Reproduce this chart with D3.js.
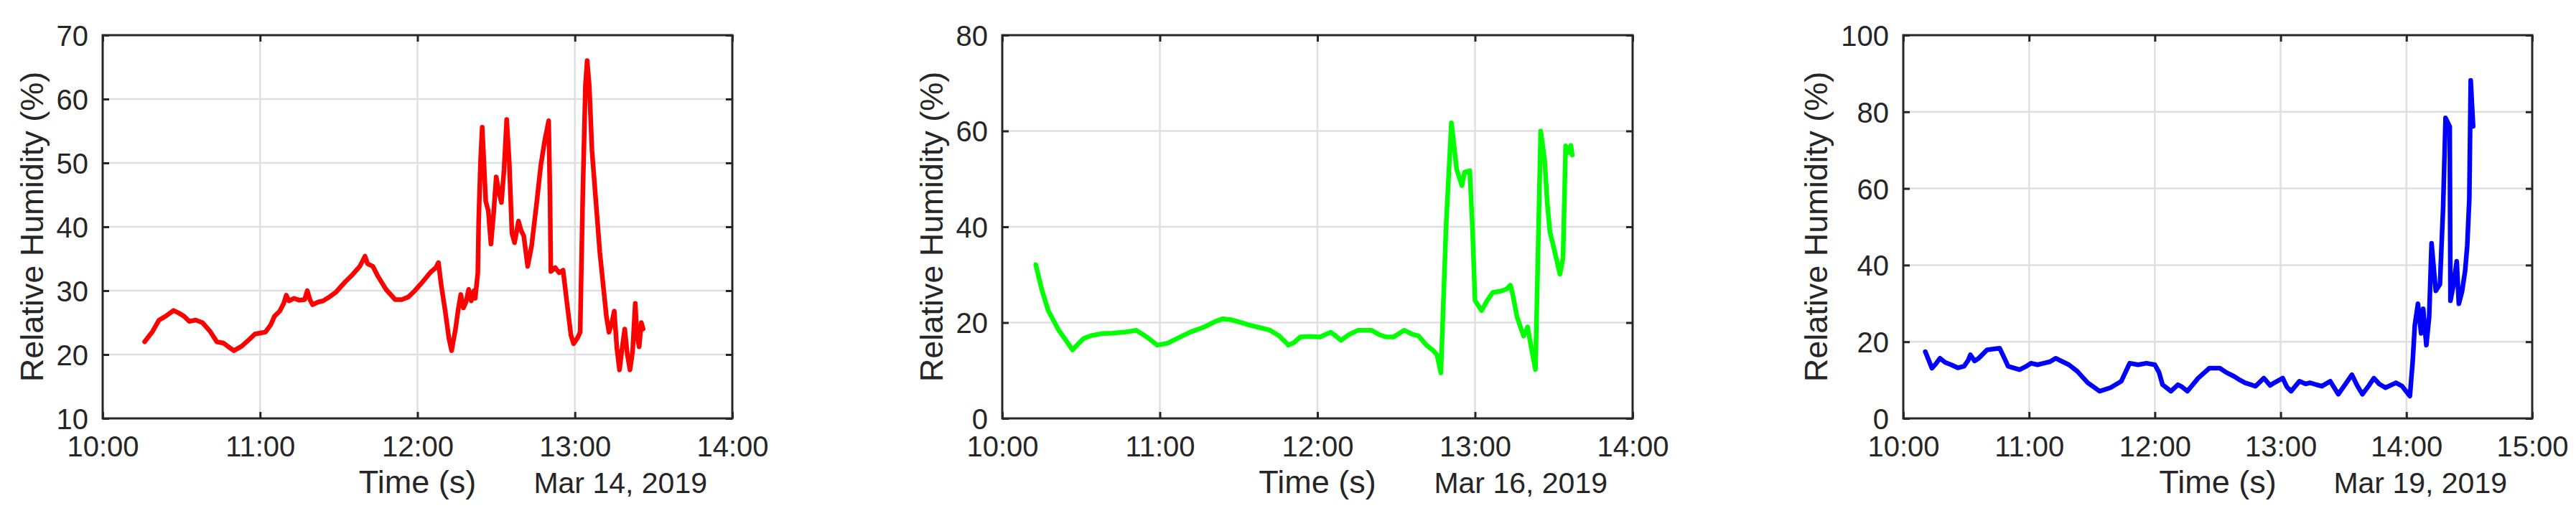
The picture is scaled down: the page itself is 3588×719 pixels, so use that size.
<!DOCTYPE html>
<html>
<head>
<meta charset="utf-8">
<script src="https://cdn.jsdelivr.net/npm/d3@7"></script>
<style>
  html, body { margin: 0; padding: 0; background: #fff; }
  svg { display: block; }
  text { font-family: "Liberation Sans", Arial, Helvetica, sans-serif; fill: #262626; }
</style>
</head>
<body>
<svg id="chart" width="3588" height="719"></svg>
<script>
// ---------------- DATA ----------------
const dates = ["2019-03-14", "2019-03-16", "2019-03-19"];
const dateLabels = ["Mar 14, 2019", "Mar 16, 2019", "Mar 19, 2019"];
const xDomains = [["10:00:00", "14:00:00"], ["10:00:00", "14:00:00"], ["10:00:00", "15:00:00"]];
const yDomains = [[10, 70], [0, 80], [0, 100]];
const yTicks1 = [10, 20, 30, 40, 50, 60, 70];
const yTicks2 = [0, 20, 40, 60, 80];
const yTicks3 = [0, 20, 40, 60, 80, 100];
const seriesColors = ["#ff0000", "#00ff00", "#0000ff"];
const xLabel = "Time (s)";
const yLabel = "Relative Humidity (%)";

const times1 = ["10:16:00","10:17:30","10:19:00","10:21:30","10:24:00","10:27:00","10:29:00","10:31:00","10:33:00","10:35:30",
"10:38:00","10:41:00","10:43:30","10:46:00","10:48:00","10:50:00","10:53:00","10:56:00","10:58:00","11:00:30",
"11:02:00","11:04:00","11:05:30","11:07:30","11:09:00","11:10:00","11:11:00","11:13:00","11:15:00","11:17:00",
"11:18:00","11:19:00","11:20:00","11:22:00","11:24:00","11:26:00","11:29:00","11:32:30","11:35:00","11:38:00",
"11:40:00","11:41:00","11:43:00","11:45:00","11:48:00","11:51:30","11:54:00","11:56:30","11:59:00","12:02:00",
"12:05:00","12:07:00","12:08:00","12:09:00","12:10:30","12:12:00","12:13:00","12:14:30","12:15:30","12:16:30",
"12:17:30","12:18:30","12:19:30","12:20:30","12:21:30","12:22:00","12:23:00","12:23:20","12:24:00","12:24:40",
"12:25:20","12:26:00","12:27:00","12:28:00","12:29:00","12:30:00","12:31:00","12:32:00","12:33:00","12:34:00",
"12:35:00","12:36:00","12:37:00","12:38:30","12:39:30","12:40:30","12:42:00","12:43:30","12:45:30","12:47:00",
"12:48:30","12:50:00","12:50:30","12:50:50","12:52:30","12:54:00","12:55:30","12:57:00","12:58:30","12:59:30",
"13:01:00","13:02:00","13:03:00","13:04:00","13:04:40","13:05:30","13:06:30","13:08:00","13:09:30","13:11:00",
"13:12:00","13:13:00","13:14:00","13:15:00","13:16:00","13:17:00","13:18:00","13:19:00","13:20:00","13:21:00",
"13:22:00","13:23:00","13:23:40","13:24:30","13:25:20","13:26:00"];
const values1 = [22.0,22.8,23.6,25.4,26.0,26.9,26.5,26.0,25.2,25.4,
25.0,23.6,22.0,21.8,21.2,20.6,21.3,22.4,23.2,23.4,
23.5,24.6,26.0,26.8,28.0,29.3,28.4,28.8,28.5,28.6,
30.0,28.6,27.8,28.2,28.4,28.9,29.8,31.4,32.4,33.8,
35.4,34.2,33.8,32.2,30.2,28.6,28.6,29.0,30.0,31.4,
32.9,33.6,34.4,31.0,27.0,22.5,20.6,24.0,27.0,29.4,
27.3,28.2,30.2,28.4,30.0,28.8,32.8,41.0,50.0,55.6,
50.0,44.0,42.5,37.3,42.0,47.8,45.5,43.8,49.0,56.8,
50.0,39.0,37.5,40.9,39.4,38.6,33.8,37.0,44.0,49.6,
53.5,56.6,45.0,33.0,33.6,32.8,33.2,28.0,23.0,21.7,
22.6,23.5,45.0,62.0,66.0,62.0,52.0,44.0,36.0,30.0,
26.0,23.5,24.8,26.8,21.0,17.6,21.0,24.0,20.0,17.6,
20.5,28.0,23.0,21.2,25.0,24.0];

const times2 = ["10:12:45","10:15:00","10:17:30","10:21:30","10:24:00","10:26:45","10:29:00","10:31:00","10:34:00","10:38:00",
"10:42:00","10:46:30","10:51:00","10:55:00","10:59:00","11:03:00","11:07:00","11:11:30","11:17:00","11:21:00",
"11:24:00","11:27:00","11:30:30","11:34:00","11:37:00","11:42:00","11:45:30","11:49:00","11:51:00","11:53:30",
"11:57:00","12:01:00","12:05:00","12:07:00","12:09:00","12:12:00","12:15:30","12:20:30","12:23:30","12:26:00",
"12:29:00","12:33:00","12:36:00","12:38:30","12:41:30","12:44:00","12:45:30","12:47:00","12:49:00","12:51:00",
"12:52:00","12:53:00","12:55:00","12:56:00","12:58:00","12:59:00","13:00:00","13:02:30","13:04:30","13:06:45",
"13:10:00","13:12:00","13:13:30","13:14:30","13:16:00","13:18:30","13:20:00","13:21:30","13:23:00","13:25:00",
"13:26:30","13:27:30","13:28:30","13:30:00","13:32:20","13:33:30","13:34:30","13:35:30","13:36:30","13:37:00"];
const values2 = [32.1,27.0,22.5,18.4,16.5,14.3,15.6,16.7,17.3,17.7,
17.8,18.0,18.4,17.0,15.3,15.7,16.8,18.0,19.1,20.2,
20.8,20.6,20.1,19.5,19.1,18.4,17.2,15.3,15.8,17.0,
17.1,17.0,18.0,17.2,16.3,17.5,18.4,18.4,17.5,17.0,
17.0,18.4,17.6,17.2,15.3,14.2,13.3,9.5,40.4,61.7,
57.0,52.0,48.6,51.4,51.7,40.0,24.6,22.5,24.5,26.3,
26.6,27.0,27.8,25.5,21.2,17.2,19.1,14.5,10.2,60.0,
54.0,45.0,39.0,35.6,30.1,33.5,56.9,55.5,57.0,55.0];

const times3 = ["10:10:30","10:13:40","10:15:30","10:17:30","10:20:00","10:22:50","10:26:00","10:29:00","10:31:00","10:32:00",
"10:34:00","10:36:00","10:40:00","10:43:00","10:46:00","10:48:00","10:50:00","10:55:30","10:58:00","11:01:00",
"11:04:00","11:07:00","11:10:00","11:12:40","11:16:00","11:19:00","11:23:00","11:28:00","11:33:40","11:36:00",
"11:38:50","11:44:00","11:48:00","11:52:00","11:56:00","12:00:00","12:02:00","12:03:40","12:07:40","12:11:00",
"12:13:00","12:15:30","12:20:40","12:26:00","12:31:00","12:34:00","12:37:40","12:40:00","12:43:00","12:48:00",
"12:52:00","12:55:00","12:57:00","13:01:00","13:03:00","13:05:00","13:09:00","13:12:00","13:14:00","13:17:00",
"13:19:40","13:23:40","13:27:30","13:31:00","13:34:00","13:36:30","13:39:00","13:42:00","13:44:30","13:47:00",
"13:50:00","13:55:00","13:58:00","14:01:40","14:03:00","14:04:00","14:05:30","14:07:00","14:08:00","14:09:30",
"14:10:50","14:12:00","14:14:00","14:16:00","14:17:30","14:18:40","14:20:40","14:21:00","14:22:30","14:24:00",
"14:25:00","14:26:30","14:28:00","14:29:00","14:30:00","14:30:40","14:31:50"];
const values3 = [17.4,13.1,14.2,15.7,14.6,14.0,13.2,13.6,15.2,16.6,
15.0,15.7,17.9,18.1,18.3,16.0,13.6,12.7,13.4,14.4,
14.0,14.4,14.8,15.7,14.8,14.0,12.3,9.3,7.1,7.5,
8.0,9.7,14.4,14.0,14.4,14.0,12.0,8.8,7.1,8.8,
8.2,7.1,10.5,13.1,13.1,12.0,11.0,10.2,9.3,8.4,
10.5,8.6,9.3,10.5,8.2,7.1,9.7,9.0,9.3,8.8,
8.4,9.7,6.3,9.0,11.4,8.6,6.3,8.5,10.5,9.0,
8.0,9.3,8.4,5.8,15.0,24.3,29.9,22.2,28.6,19.1,
26.4,45.7,33.3,35.0,55.0,78.4,76.2,30.7,35.0,41.0,
29.9,33.0,38.5,45.0,57.3,88.2,76.2];

const timesAll = [times1, times2, times3];
const valuesAll = [values1, values2, values3];
const yTicksAll = [yTicks1, yTicks2, yTicks3];

// ---------------- LAYOUT ----------------
const panelLeft = [143, 1396, 2651];
const panelRight = [1020, 2274, 3527];
const plotTop = 49, plotBottom = 583;
const tickFont = 40, labelFont = 45, dateFont = 41;
const axisColor = "#262626", gridColor = "#dfdfdf";
const tickLen = 9;

const svg = d3.select("#chart");
const parse = d3.timeParse("%Y-%m-%d %H:%M:%S");
const defs = svg.append("defs");

for (let p = 0; p < 3; p++) {
  const x = d3.scaleTime()
    .domain(xDomains[p].map(t => parse(dates[p] + " " + t)))
    .range([panelLeft[p], panelRight[p]]);
  const y = d3.scaleLinear().domain(yDomains[p]).range([plotBottom, plotTop]);
  const xt = x.ticks(d3.timeHour.every(1));
  const yt = yTicksAll[p];
  const g = svg.append("g");

  // grid
  g.selectAll(".vg").data(xt.slice(1, -1)).join("line")
    .attr("x1", d => x(d)).attr("x2", d => x(d)).attr("y1", plotTop).attr("y2", plotBottom)
    .attr("stroke", gridColor).attr("stroke-width", 2.5);
  g.selectAll(".hg").data(yt.slice(1, -1)).join("line")
    .attr("x1", panelLeft[p]).attr("x2", panelRight[p]).attr("y1", d => y(d)).attr("y2", d => y(d))
    .attr("stroke", gridColor).attr("stroke-width", 2.5);

  // data line
  const clipId = "clip" + p;
  defs.append("clipPath").attr("id", clipId).append("rect")
    .attr("x", panelLeft[p]).attr("y", plotTop)
    .attr("width", panelRight[p] - panelLeft[p]).attr("height", plotBottom - plotTop);
  const pts = timesAll[p].map((t, i) => [parse(dates[p] + " " + t), valuesAll[p][i]]);
  const line = d3.line().x(d => x(d[0])).y(d => y(d[1]));
  g.append("path").datum(pts)
    .attr("clip-path", "url(#" + clipId + ")")
    .attr("d", line).attr("fill", "none")
    .attr("stroke", seriesColors[p]).attr("stroke-width", 6.5)
    .attr("stroke-linejoin", "round").attr("stroke-linecap", "round");

  // axes (inward ticks on all sides)
  const bAx = g.append("g").attr("transform", `translate(0,${plotBottom})`)
    .call(d3.axisBottom(x).tickValues(xt).tickFormat(d3.timeFormat("%H:%M")).tickSize(-tickLen).tickPadding(0));
  const tAx = g.append("g").attr("transform", `translate(0,${plotTop})`)
    .call(d3.axisTop(x).tickValues(xt).tickSize(-tickLen).tickFormat(""));
  const lAx = g.append("g").attr("transform", `translate(${panelLeft[p]},0)`)
    .call(d3.axisLeft(y).tickValues(yt).tickSize(-tickLen).tickPadding(0));
  const rAx = g.append("g").attr("transform", `translate(${panelRight[p]},0)`)
    .call(d3.axisRight(y).tickValues(yt).tickSize(-tickLen).tickFormat(""));
  [bAx, tAx, lAx, rAx].forEach(a => {
    a.select(".domain").remove();
    a.attr("font-family", null).attr("font-size", null);
    a.selectAll(".tick line").attr("stroke", axisColor).attr("stroke-width", 3);
  });
  bAx.selectAll(".tick text")
    .attr("y", 53).attr("dy", null)
    .attr("font-size", tickFont).style("fill", axisColor);
  lAx.selectAll(".tick text")
    .attr("x", -20).attr("dy", (0.36 * tickFont) + "px")
    .attr("font-size", tickFont).style("fill", axisColor);

  // box
  g.append("rect")
    .attr("x", panelLeft[p]).attr("y", plotTop)
    .attr("width", panelRight[p] - panelLeft[p]).attr("height", plotBottom - plotTop)
    .attr("fill", "none").attr("stroke", axisColor).attr("stroke-width", 3);

  // y label
  let maxW = 0;
  lAx.selectAll(".tick text").each(function () { maxW = Math.max(maxW, this.getComputedTextLength()); });
  const ylx = panelLeft[p] - 20 - maxW - 19;
  g.append("text")
    .attr("transform", `translate(${ylx},${(plotTop + plotBottom) / 2}) rotate(-90)`)
    .attr("text-anchor", "middle").attr("font-size", labelFont)
    .text(yLabel);

  // x label and date label
  g.append("text")
    .attr("x", (panelLeft[p] + panelRight[p]) / 2).attr("y", 687)
    .attr("text-anchor", "middle").attr("font-size", labelFont)
    .text(xLabel);
  g.append("text")
    .attr("x", panelRight[p] - 35).attr("y", 687)
    .attr("text-anchor", "end").attr("font-size", dateFont)
    .text(dateLabels[p]);
}
</script>
</body>
</html>
